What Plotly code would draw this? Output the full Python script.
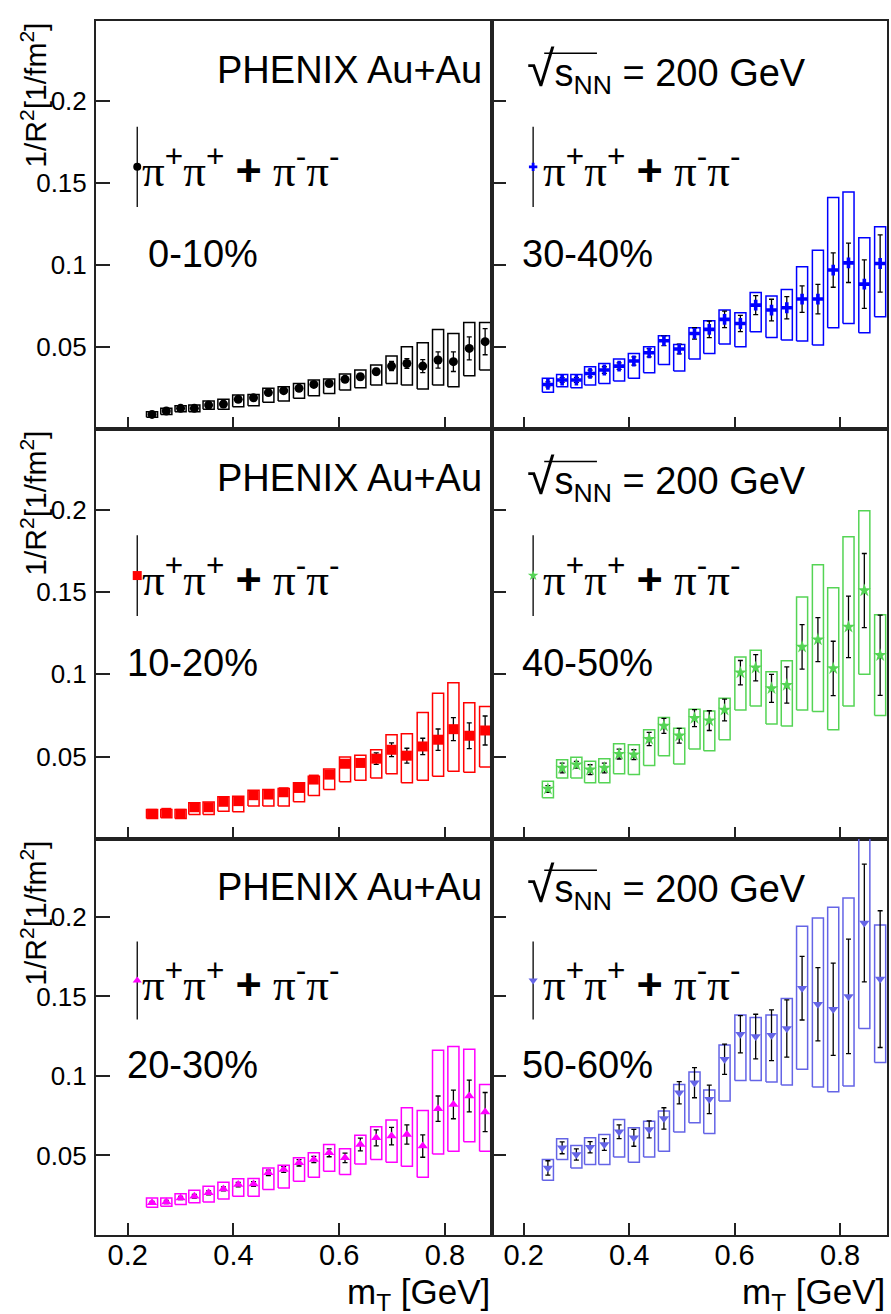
import plotly.graph_objects as go
from plotly.subplots import make_subplots

# ---------------- data ----------------
mt = [0.246, 0.273, 0.300, 0.326, 0.353, 0.381, 0.409, 0.438, 0.466, 0.495, 0.524, 0.552,
      0.581, 0.611, 0.640, 0.670, 0.699, 0.728, 0.758, 0.787, 0.816, 0.846, 0.876]

# (a) 0-10%
val_a = [0.0089, 0.0110, 0.0126, 0.0126, 0.0146, 0.0152, 0.0181, 0.0191, 0.0222, 0.0234, 0.0248, 0.0272,
         0.0278, 0.0303, 0.0319, 0.0350, 0.0384, 0.0400, 0.0384, 0.0421, 0.0411, 0.0492, 0.0533]
stat_a = [0.0008, 0.0008, 0.0008, 0.0008, 0.0010, 0.0010, 0.0010, 0.0010, 0.0012, 0.0012, 0.0013, 0.0014,
          0.0015, 0.0016, 0.0018, 0.0020, 0.0028, 0.0030, 0.0040, 0.0050, 0.0060, 0.0070, 0.0080]
syshi_a = [0.0106, 0.0126, 0.0142, 0.0146, 0.0171, 0.0181, 0.0207, 0.0211, 0.0248, 0.0258, 0.0278, 0.0299,
           0.0305, 0.0335, 0.0360, 0.0390, 0.0445, 0.0502, 0.0526, 0.0608, 0.0583, 0.0650, 0.0650]
syslo_a = [0.0071, 0.0089, 0.0106, 0.0106, 0.0120, 0.0120, 0.0136, 0.0142, 0.0163, 0.0171, 0.0187, 0.0203,
           0.0217, 0.0238, 0.0252, 0.0268, 0.0278, 0.0268, 0.0244, 0.0268, 0.0258, 0.0325, 0.0360]

# (b) 10-20%
val_b = [0.0153, 0.0159, 0.0153, 0.0193, 0.0193, 0.0226, 0.0230, 0.0266, 0.0270, 0.0284, 0.0310, 0.0361,
         0.0391, 0.0457, 0.0462, 0.0488, 0.0542, 0.0506, 0.0562, 0.0603, 0.0667, 0.0627, 0.0659]
stat_b = [0.0010, 0.0010, 0.0010, 0.0010, 0.0010, 0.0012, 0.0012, 0.0013, 0.0014, 0.0015, 0.0016, 0.0018,
          0.0020, 0.0020, 0.0020, 0.0035, 0.0042, 0.0045, 0.0050, 0.0065, 0.0070, 0.0078, 0.0088]
syshi_b = [0.0179, 0.0179, 0.0179, 0.0220, 0.0224, 0.0256, 0.0260, 0.0296, 0.0300, 0.0306, 0.0341, 0.0381,
           0.0425, 0.0498, 0.0508, 0.0542, 0.0633, 0.0639, 0.0768, 0.0885, 0.0949, 0.0828, 0.0804]
syslo_b = [0.0125, 0.0129, 0.0125, 0.0149, 0.0149, 0.0169, 0.0165, 0.0200, 0.0200, 0.0200, 0.0226, 0.0264,
           0.0300, 0.0347, 0.0357, 0.0371, 0.0397, 0.0341, 0.0357, 0.0381, 0.0411, 0.0405, 0.0437]

# (c) 20-30%
val_c = [0.0202, 0.0208, 0.0233, 0.0244, 0.0265, 0.0290, 0.0317, 0.0321, 0.0391, 0.0412, 0.0454, 0.0475,
         0.0517, 0.0485, 0.0569, 0.0611, 0.0622, 0.0632, 0.0559, 0.0794, 0.0821, 0.0874, 0.0773]
stat_c = [0.0010, 0.0010, 0.0010, 0.0012, 0.0012, 0.0013, 0.0014, 0.0015, 0.0017, 0.0018, 0.0020, 0.0020,
          0.0025, 0.0030, 0.0040, 0.0050, 0.0055, 0.0060, 0.0070, 0.0080, 0.0090, 0.0100, 0.0123]
syshi_c = [0.0233, 0.0233, 0.0260, 0.0281, 0.0307, 0.0332, 0.0353, 0.0355, 0.0422, 0.0439, 0.0485, 0.0517,
           0.0569, 0.0542, 0.0628, 0.0681, 0.0723, 0.0800, 0.0783, 0.1162, 0.1185, 0.1168, 0.0947]
syslo_c = [0.0174, 0.0181, 0.0191, 0.0202, 0.0208, 0.0227, 0.0244, 0.0244, 0.0286, 0.0296, 0.0338, 0.0363,
           0.0401, 0.0380, 0.0447, 0.0475, 0.0458, 0.0433, 0.0363, 0.0510, 0.0527, 0.0586, 0.0527]

# (d) 30-40%
val_d = [0.0272, 0.0299, 0.0299, 0.0339, 0.0360, 0.0384, 0.0415, 0.0465, 0.0539, 0.0488, 0.0583, 0.0608,
         0.0669, 0.0644, 0.0756, 0.0726, 0.0740, 0.0793, 0.0793, 0.0970, 0.1014, 0.0884, 0.1010]
stat_d = [0.0015, 0.0015, 0.0015, 0.0020, 0.0020, 0.0020, 0.0025, 0.0025, 0.0030, 0.0030, 0.0035, 0.0050,
          0.0050, 0.0050, 0.0058, 0.0066, 0.0068, 0.0081, 0.0090, 0.0105, 0.0120, 0.0148, 0.0175]
syshi_d = [0.0309, 0.0333, 0.0333, 0.0380, 0.0400, 0.0427, 0.0461, 0.0502, 0.0569, 0.0516, 0.0618, 0.0661,
           0.0726, 0.0709, 0.0833, 0.0811, 0.0852, 0.0990, 0.1091, 0.1413, 0.1447, 0.1167, 0.1234]
syslo_d = [0.0224, 0.0258, 0.0252, 0.0268, 0.0278, 0.0293, 0.0309, 0.0343, 0.0394, 0.0354, 0.0427, 0.0461,
           0.0518, 0.0502, 0.0593, 0.0559, 0.0543, 0.0537, 0.0512, 0.0618, 0.0644, 0.0587, 0.0685]

# (e) 40-50%
val_e = [0.0304, 0.0431, 0.0451, 0.0421, 0.0431, 0.0516, 0.0512, 0.0607, 0.0687, 0.0627, 0.0734, 0.0719,
         0.0784, 0.1010, 0.1040, 0.0915, 0.0935, 0.1167, 0.1211, 0.1036, 0.1288, 0.1509, 0.1116]
stat_e = [0.0020, 0.0030, 0.0020, 0.0030, 0.0030, 0.0030, 0.0030, 0.0040, 0.0045, 0.0045, 0.0052, 0.0060,
          0.0066, 0.0074, 0.0080, 0.0085, 0.0110, 0.0135, 0.0134, 0.0165, 0.0187, 0.0225, 0.0244]
syshi_e = [0.0351, 0.0482, 0.0496, 0.0472, 0.0488, 0.0578, 0.0572, 0.0663, 0.0738, 0.0673, 0.0788, 0.0778,
           0.0855, 0.1106, 0.1147, 0.1016, 0.1082, 0.1469, 0.1665, 0.1526, 0.1836, 0.1993, 0.1362]
syslo_e = [0.0250, 0.0371, 0.0371, 0.0341, 0.0341, 0.0397, 0.0391, 0.0447, 0.0506, 0.0455, 0.0546, 0.0536,
           0.0603, 0.0784, 0.0808, 0.0699, 0.0687, 0.0784, 0.0774, 0.0663, 0.0808, 0.1000, 0.0750]

# (f) 50-60%
val_f = [0.0422, 0.0548, 0.0506, 0.0552, 0.0569, 0.0649, 0.0611, 0.0664, 0.0733, 0.0895, 0.0958, 0.0853,
         0.1105, 0.1262, 0.1248, 0.1256, 0.1298, 0.1552, 0.1451, 0.1420, 0.1500, 0.1962, 0.1609]
stat_f = [0.0045, 0.0037, 0.0035, 0.0035, 0.0037, 0.0043, 0.0053, 0.0053, 0.0067, 0.0070, 0.0095, 0.0090,
          0.0095, 0.0117, 0.0140, 0.0159, 0.0180, 0.0200, 0.0230, 0.0290, 0.0360, 0.0370, 0.0430]
syshi_f = [0.0475, 0.0605, 0.0563, 0.0611, 0.0632, 0.0727, 0.0674, 0.0716, 0.0779, 0.0947, 0.1025, 0.0912,
           0.1195, 0.1384, 0.1367, 0.1384, 0.1487, 0.1941, 0.1993, 0.2061, 0.2119, 0.2620, 0.1949]
syslo_f = [0.0344, 0.0475, 0.0422, 0.0443, 0.0443, 0.0491, 0.0458, 0.0491, 0.0527, 0.0647, 0.0706, 0.0639,
           0.0842, 0.0972, 0.0972, 0.0962, 0.0943, 0.1042, 0.0930, 0.0901, 0.0937, 0.1298, 0.1084]

centralities = ["0-10%", "10-20%", "20-30%", "30-40%", "40-50%", "50-60%"]
panel_labels = ["(a)", "(b)", "(c)", "(d)", "(e)", "(f)"]
x_tickvals = [0.2, 0.4, 0.6, 0.8]
x_ticktext = ["0.2", "0.4", "0.6", "0.8"]
y_tickvals = [0.05, 0.1, 0.15, 0.2]
y_ticktext = ["0.05", "0.1", "0.15", "0.2"]

# legend sample point (marker with a vertical error line)
leg_x = 0.218
leg_y = 0.16
leg_err = 0.0245

# ---------------- style ----------------
SANS = "Liberation Sans, Arial, Helvetica, sans-serif"
SERIF = "Liberation Serif, Times New Roman, serif"
BOX_HW = 0.0105   # half width of systematic boxes (in mT units)
X_RANGE = [0.14, 0.889]
Y_RANGE = [0, 0.249]

panels = [
    dict(row=1, col=1, v=val_a, s=stat_a, hi=syshi_a, lo=syslo_a, sym="circle", color="#000000", size=9, lsize=8),
    dict(row=2, col=1, v=val_b, s=stat_b, hi=syshi_b, lo=syslo_b, sym="square", color="#ff0000", size=10, lsize=9),
    dict(row=3, col=1, v=val_c, s=stat_c, hi=syshi_c, lo=syslo_c, sym="triangle-up", color="#ff00ff", size=9, lsize=8),
    dict(row=1, col=2, v=val_d, s=stat_d, hi=syshi_d, lo=syslo_d, sym="cross", color="#0000ff", size=9, lsize=7),
    dict(row=2, col=2, v=val_e, s=stat_e, hi=syshi_e, lo=syslo_e, sym="star", color="#55d455", size=10, lsize=8),
    dict(row=3, col=2, v=val_f, s=stat_f, hi=syshi_f, lo=syslo_f, sym="triangle-down", color="#6464e6", size=9, lsize=8),
]

fig = make_subplots(rows=3, cols=2, horizontal_spacing=0, vertical_spacing=0)

W, H = 891, 1314
ML, MR, MT, MB = 96, 2, 21, 79
pw = W - ML - MR
ph = H - MT - MB
xsplit = 397 / pw
row_tops_px = [21, 429, 839]
row_bots_px = [429, 839, 1235]
ydom = [[(1235 - b) / ph, (1235 - t) / ph] for t, b in zip(row_tops_px, row_bots_px)]
ydom[0][1] = 1.0
ydom[2][0] = 0.0

for p in panels:
    r, c = p["row"], p["col"]
    bx, by = [], []
    for x, lo, hi in zip(mt, p["lo"], p["hi"]):
        bx += [x - BOX_HW, x + BOX_HW, x + BOX_HW, x - BOX_HW, x - BOX_HW, None]
        by += [lo, lo, hi, hi, lo, None]
    fig.add_trace(go.Scatter(x=bx, y=by, mode="lines", line=dict(color=p["color"], width=1.5),
                             hoverinfo="skip"), row=r, col=c)
    mk = dict(symbol=p["sym"], color=p["color"], size=p["size"], line=dict(width=0))
    fig.add_trace(go.Scatter(x=mt, y=p["v"], mode="markers", marker=mk,
                             error_y=dict(type="data", array=p["s"], color="black", thickness=1.3, width=2.5)),
                  row=r, col=c)
    lmk = dict(symbol=p["sym"], color=p["color"], size=p["lsize"], line=dict(width=0))
    fig.add_trace(go.Scatter(x=[leg_x], y=[leg_y], mode="markers", marker=lmk,
                             error_y=dict(type="data", array=[leg_err], color="black", thickness=1.3, width=0)),
                  row=r, col=c)

for r in range(1, 4):
    for c in range(1, 3):
        fig.update_xaxes(row=r, col=c, range=X_RANGE, domain=[0, xsplit] if c == 1 else [xsplit, 1],
                         tickvals=x_tickvals, ticktext=x_ticktext, showticklabels=(r == 3),
                         ticks="inside", ticklen=12, tickwidth=1.5, tickcolor="#222",
                         showline=True, mirror=True, linecolor="#222", linewidth=2,
                         showgrid=False, zeroline=False,
                         tickfont=dict(family=SANS, size=29, color="black"), ticklabelstandoff=-7)
        fig.update_yaxes(row=r, col=c, range=Y_RANGE, domain=ydom[r - 1],
                         tickvals=y_tickvals, ticktext=y_ticktext, showticklabels=(c == 1),
                         ticks="inside", ticklen=14, tickwidth=1.5, tickcolor="#222",
                         showline=True, mirror=True, linecolor="#222", linewidth=2,
                         showgrid=False, zeroline=False,
                         tickfont=dict(family=SANS, size=26, color="black"), ticklabelstandoff=2)

ann = []
shapes = []
sp = lambda t: f"<span style=\"font-family:Liberation Sans\">{t}</span>"
legend_text = f"π<sup>{sp('+')}</sup>π<sup>{sp('+')}</sup> <b>{sp('+')}</b> π<sup>{sp('-')}</sup>π<sup>{sp('-')}</sup>"
sqrt_text = "<span style=\"font-size:50px\">√</span>s<sub>NN</sub> = 200 GeV"

idx = {(1, 1): 0, (2, 1): 1, (3, 1): 2, (1, 2): 3, (2, 2): 4, (3, 2): 5}
for (r, c), k in idx.items():
    n = (r - 1) * 2 + c
    xr = "x" if n == 1 else f"x{n}"
    yr = "y" if n == 1 else f"y{n}"
    if c == 1:
        ann.append(dict(text="PHENIX Au+Au", x=0.874, y=0.219, xref=xr, yref=yr, xanchor="right",
                        yanchor="middle", showarrow=False, font=dict(family=SANS, size=38, color="black")))
        lx = 0.224
    else:
        ann.append(dict(text=sqrt_text, x=0.203, y=0.219, xref=xr, yref=yr, xanchor="left",
                        yanchor="middle", showarrow=False, font=dict(family=SANS, size=38, color="black")))
        shapes.append(dict(type="line", xref=xr, yref=yr, x0=0.239, x1=0.339, y0=0.2293, y1=0.2293,
                           line=dict(color="black", width=1.5)))
        lx = 0.232
    ann.append(dict(text=legend_text, x=lx, y=leg_y, xref=xr, yref=yr, xanchor="left", yanchor="middle",
                    showarrow=False, font=dict(family=SERIF, size=45, color="black")))
    ann.append(dict(text=centralities[k], x=0.45, y=0.107, xref=xr, yref=yr, xanchor="right",
                    yanchor="middle", showarrow=False, font=dict(family=SANS, size=38, color="black")))
    ann.append(dict(text=panel_labels[k], x=0.892, y=0.0145, xref=xr, yref=yr, xanchor="right",
                    yanchor="middle", showarrow=False, font=dict(family=SANS, size=38, color="black")))

for r in range(3):
    ann.append(dict(text="1/R<sup>2</sup>[1/fm<sup>2</sup>]", textangle=-90, x=(33 - ML) / pw, y=ydom[r][1],
                    xref="paper", yref="paper", xanchor="center", yanchor="top", showarrow=False,
                    font=dict(family=SANS, size=30, color="black")))
for xr in ["x5 domain", "x6 domain"]:
    ann.append(dict(text="m<sub>T</sub> [GeV]", x=1.0, y=-(1294 - 1235) / ph, xref=xr, yref="paper",
                    xanchor="right", yanchor="middle", showarrow=False,
                    font=dict(family=SANS, size=35, color="black")))

fig.update_layout(width=W, height=H, margin=dict(l=ML, r=MR, t=MT, b=MB),
                  plot_bgcolor="white", paper_bgcolor="white", showlegend=False,
                  annotations=ann, shapes=shapes, font=dict(family=SANS))

fig.write_html("out.html", config={"displayModeBar": False},
               post_script="document.body.style.margin='0';document.body.style.overflow='hidden';")
